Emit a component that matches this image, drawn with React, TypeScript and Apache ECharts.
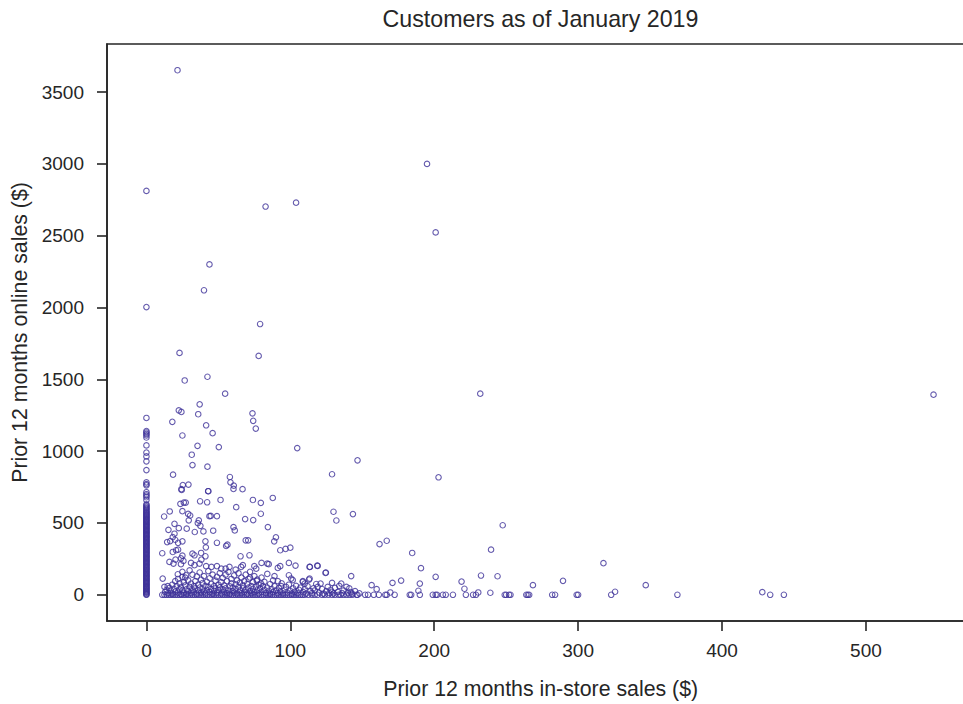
import React, { useEffect, useRef } from "react";
import * as echarts from "echarts";

// Tick labels
const xTicks = [0, 100, 200, 300, 400, 500];
const yTicks = [0, 500, 1000, 1500, 2000, 2500, 3000, 3500];

// Customers with no in-store sales (in-store = 0): online sales values
const zeroStoreOnline = [
  0, 4, 9, 15, 20, 26, 31, 37, 42, 48, 53, 58, 64, 70, 75, 81, 86, 92, 97, 103,
  108, 114, 119, 125, 131, 136, 142, 147, 153, 158, 164, 170, 175, 181, 186, 192,
  197, 203, 209, 214, 220, 225, 231, 236, 242, 248, 253, 259, 264, 270, 276, 281,
  287, 292, 298, 303, 309, 315, 320, 326, 331, 337, 342, 348, 354, 359, 365, 370,
  376, 381, 387, 393, 398, 404, 409, 415, 420, 426, 432, 437, 443, 448, 454, 459,
  465, 471, 476, 482, 487, 493, 498, 504, 510, 515, 521, 526, 532, 538, 543, 549,
  555, 560, 566, 572, 578, 585, 592, 600, 606, 614, 622, 630, 660, 679, 690, 700,
  714, 762, 770, 783, 868, 929, 963, 990, 1040, 1095, 1110, 1120, 1130, 1140, 1231,
  2003, 2812,
];

// Customers with no online sales (online = 0): in-store sales values
const zeroOnlineStore = [
  11, 12.5, 14, 15.5, 17, 18.5, 20, 21.5, 23, 24.5, 26, 27.5, 29, 30.5, 32, 33.5,
  35, 36.5, 38, 39.5, 41, 42.5, 44, 45.5, 47, 48.5, 50, 51.5, 53, 54.5, 56, 57.5,
  59, 60.5, 62, 63.5, 65, 66.5, 68, 69.5, 71, 72.5, 74, 75.5, 77, 78.5, 80, 81.5,
  83, 84.5, 86, 87.5, 89, 90.5, 92, 93.5, 95, 96.5, 98, 99.5, 101, 102.5, 104,
  105.5, 107, 108.5, 110, 112.5, 115, 117, 119, 122, 124, 126.5, 129, 131, 133.5,
  135, 137, 139, 141, 143, 146, 146.7, 152, 154, 158, 161.5, 166, 167, 172.5, 183,
  184, 190, 199, 201, 202, 206, 208, 213, 222, 227, 229, 249, 250, 252, 253, 264,
  265, 266, 282, 284, 299, 300, 323, 369, 433.5, 443,
];

// Other customers: in-store and online sales, paired by index
const otherStore = [
  21.6, 82.8, 104, 195, 201, 43.8, 40, 79, 78, 23, 26.6, 42.4, 54.7, 232, 547, 37,
  22.5, 24.3, 73.7, 36, 74.2, 76, 18, 41.5, 25, 46, 104.8, 35.5, 50.3, 31.5, 32,
  146.7, 42.4, 203, 18.5, 58, 129, 58.4, 60.7, 66.8, 42.9, 25.3, 24.3, 29.2, 24.5,
  43, 60.5, 23.6, 26, 27.3, 37.3, 42.2, 51.5, 74, 79.5, 87.8, 62.4, 16.2, 12.3, 25,
  29, 30.4, 43.8, 44.7, 49, 68.6, 74.2, 79.5, 84.4, 130, 132, 143.5, 29.4, 36.4,
  35.7, 19.5, 15.3, 22.5, 28, 37.5, 33.6, 39.6, 46.4, 60.5, 61.4, 69, 70.7, 88.8,
  90, 18.3, 19.5, 14.4, 16.5, 20, 22, 25, 41, 49, 55.4, 56.3, 93, 96.7, 100, 11,
  18.3, 20.6, 22, 25, 24, 32, 33.4, 38, 41, 41.3, 65.4, 71.6, 247.6, 162, 167,
  184.7, 239.5, 317.6, 190.8, 113.6, 119,
  16, 18.8, 20.2, 24, 25.7, 31, 33.4, 36.9, 38.2, 41.5, 45.2, 49, 52, 55, 57.7, 62,
  65.8, 11.3, 21.8, 25, 27.5, 12.5, 14.8, 67, 75, 76.3, 80, 84, 85, 91.3, 93, 99,
  103.6, 113.4, 118.7, 124.5, 142.3, 72, 76.7, 79.7, 89, 91.3, 93.7, 99, 100.6,
  101.7, 108.7, 110, 113.4, 119, 121, 129, 135.4, 139, 141, 142, 156.5, 160, 171,
  177, 190, 189, 201, 219, 221, 232.5, 244, 230.6, 239, 268.6, 289.5, 325.7, 347,
  428, 169.5, 129, 108.7, 113, 124.7,
  13, 14, 15, 16, 17, 18, 18, 19, 20, 20, 21, 22, 22, 23, 23, 24, 24, 25, 25, 26,
  26, 27, 27, 28, 28, 29, 29, 30, 30, 31, 31, 32, 32, 33, 33, 34, 34, 35, 35, 36,
  36, 37, 37, 38, 38, 39, 39, 40, 40, 41, 41, 42, 42, 43, 43, 44, 44, 45, 45, 46,
  46, 47, 47, 48, 48, 49, 49, 50, 50, 51, 51, 52, 52, 53, 53, 54, 54, 55, 55, 56,
  56, 57, 57, 58, 58, 59, 59, 60, 60, 61, 61, 62, 62, 63, 63, 64, 64, 65, 65, 66,
  66, 67, 67, 68, 68, 69, 69, 70, 70, 71, 71, 72, 72, 73, 73, 74, 74, 75, 75, 76,
  77, 77, 78, 78, 79, 80, 80, 81, 82, 82, 83, 84, 84, 85, 86, 86, 87, 88, 88, 89,
  90, 91, 92, 93, 94, 95, 96, 97, 98, 99, 100, 101, 102, 103, 104, 105, 106, 107,
  109, 110, 111, 112, 114, 115, 116, 117, 118, 120, 122, 123, 125, 126, 127, 128,
  130, 131, 133, 134, 136, 137, 140, 143, 145, 148,
];
const otherOnline = [
  3652, 2703, 2730, 3000, 2523, 2300, 2120, 1885, 1663, 1684, 1492, 1518, 1400,
  1400, 1393, 1326, 1284, 1273, 1263, 1257, 1211, 1157, 1204, 1180, 1109, 1125,
  1021, 1037, 1028, 975, 903, 936, 892, 818, 836, 820, 839, 783, 760, 735, 721, 764,
  735, 767, 730, 721, 737, 633, 642, 642, 651, 644, 660, 660, 640, 674, 610, 580,
  545, 582, 563, 552, 547, 549, 547, 527, 520, 564, 471, 578, 517, 562, 518, 518,
  499, 494, 452, 464, 460, 480, 437, 441, 446, 471, 448, 379, 379, 372, 400, 402,
  425, 367, 374, 383, 362, 372, 372, 362, 340, 349, 310, 319, 328, 289, 298, 310,
  314, 272, 254, 286, 275, 291, 268, 330, 268, 275, 484, 353, 376, 291, 314, 220,
  185, 194, 201,
  229, 217, 245, 213, 236, 222, 206, 217, 245, 199, 194, 199, 182, 182, 194, 175,
  194, 113, 143, 125, 136, 55, 60, 206, 199, 182, 222, 217, 213, 187, 199, 222,
  203, 194, 203, 152, 130, 120, 97, 78, 130, 95, 60, 136, 113, 102, 90, 78, 113,
  55, 78, 83, 78, 55, 44, 19, 67, 39, 83, 99, 78, 28, 125, 92, 42, 134, 129, 16,
  14, 67, 97, 21, 67, 18, 16, 21, 95, 106, 155,
  20, 35, 12, 48, 28, 70, 8, 42, 95, 22, 60, 15, 110, 38, 80, 5, 52, 160, 30, 88,
  14, 65, 120, 40, 8, 100, 25, 55, 170, 12, 78, 35, 140, 60, 18, 95, 45, 128, 8,
  70, 30, 155, 50, 15, 105, 40, 82, 22, 130, 62, 10, 90, 35, 165, 55, 18, 115, 75,
  40, 8, 140, 60, 28, 98, 45, 15, 125, 70, 33, 150, 52, 10, 88, 38, 118, 20, 65,
  140, 45, 12, 95, 30, 160, 58, 8, 80, 110, 25, 50, 135, 15, 72, 40, 100, 10, 55,
  150, 30, 85, 12, 120, 45, 65, 20, 95, 140, 35, 8, 75, 50, 110, 25, 160, 60, 12,
  88, 40, 130, 18, 55, 30, 105, 10, 70, 45, 20, 120, 60, 35, 90, 12, 50, 145, 28,
  75, 8, 40, 100, 18, 60, 30, 12, 48, 22, 80, 10, 35, 55, 15, 70, 28, 8, 45, 20,
  62, 12, 35, 50, 18, 40, 8, 60, 25, 12, 45, 30, 75, 15, 40, 8, 25, 55, 12, 35, 10,
  48, 20, 62, 12, 30, 15, 8, 25, 10,
];

const TEXT = "#262626";
const DOT = "#3d3199";
const FONT = "'Liberation Sans', Arial, sans-serif";

export default function App() {
  const ref = useRef<HTMLDivElement>(null);

  useEffect(() => {
    if (!ref.current) return;
    const chart = echarts.init(ref.current, undefined, { renderer: "svg" });

    const data: number[][] = [];
    zeroStoreOnline.forEach((v) => data.push([0, v]));
    zeroOnlineStore.forEach((v) => data.push([v, 0]));
    const n = Math.min(otherStore.length, otherOnline.length);
    for (let i = 0; i < n; i++) data.push([otherStore[i], otherOnline[i]]);

    const plain = (v: number) => String(v);

    chart.setOption({
      animation: false,
      textStyle: { fontFamily: FONT },
      grid: {
        left: 107,
        top: 44,
        width: 867.4,
        height: 581,
        show: true,
        borderColor: TEXT,
        borderWidth: 1.6,
        backgroundColor: "transparent",
      },
      graphic: [
        {
          type: "text",
          x: 540.5,
          y: 18.5,
          style: {
            text: "Customers as of January 2019",
            textAlign: "center",
            textVerticalAlign: "middle",
            fontSize: 23.2,
            fontFamily: FONT,
            fill: TEXT,
          },
        },
      ],
      xAxis: {
        type: "value",
        min: -27.4,
        max: 575.4,
        name: "Prior 12 months in-store sales ($)",
        nameLocation: "middle",
        nameGap: 57,
        nameTextStyle: { fontSize: 21.3, color: TEXT, fontFamily: FONT },
        splitLine: { show: false },
        axisLine: { show: true, onZero: false, lineStyle: { color: TEXT, width: 1.6 } },
        axisTick: {
          show: true,
          length: 10,
          customValues: xTicks,
          lineStyle: { color: TEXT, width: 1.6 },
        },
        axisLabel: {
          customValues: xTicks,
          formatter: plain,
          fontSize: 19,
          color: TEXT,
          margin: 20,
          fontFamily: FONT,
        },
      },
      yAxis: {
        type: "value",
        min: -182.6,
        max: 3834.6,
        name: "Prior 12 months online sales ($)",
        nameLocation: "middle",
        nameGap: 70,
        nameTextStyle: { fontSize: 21.3, color: TEXT, fontFamily: FONT },
        splitLine: { show: false },
        axisLine: { show: true, onZero: false, lineStyle: { color: TEXT, width: 1.6 } },
        axisTick: {
          show: true,
          length: 10,
          customValues: yTicks,
          lineStyle: { color: TEXT, width: 1.6 },
        },
        axisLabel: {
          customValues: yTicks,
          formatter: plain,
          fontSize: 19,
          color: TEXT,
          margin: 23,
          fontFamily: FONT,
        },
      },
      series: [
        {
          type: "scatter",
          data,
          symbol: "circle",
          symbolSize: 5.5,
          itemStyle: { color: "transparent", borderColor: DOT, borderWidth: 1.1 },
          emphasis: { disabled: true },
        },
      ],
    });

    return () => chart.dispose();
  }, []);

  return (
    <div
      style={{
        position: "absolute",
        left: 0,
        top: 0,
        width: 963,
        height: 704,
        overflow: "hidden",
      }}
    >
      <div ref={ref} style={{ width: 995, height: 704 }} />
    </div>
  );
}
